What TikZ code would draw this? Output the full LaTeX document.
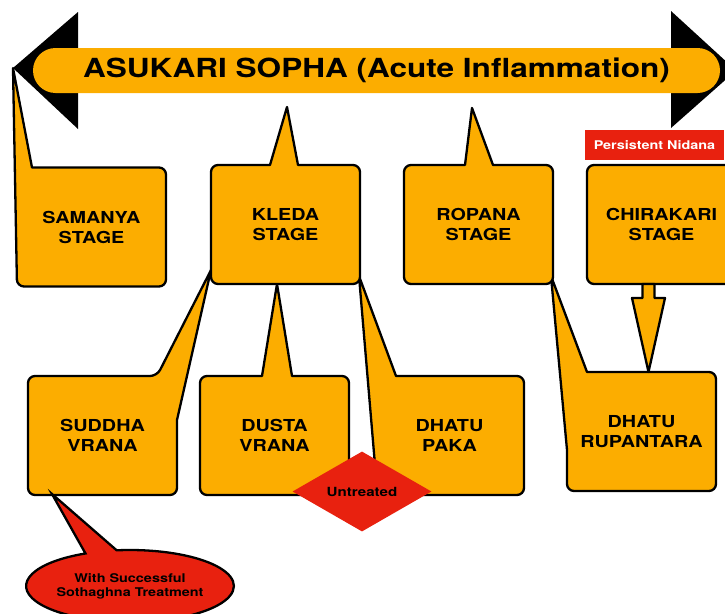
\documentclass[tikz,border=0pt]{standalone}
\usepackage{fontspec}
\setmainfont{TeX Gyre Heros}[FakeStretch=1.2]
\usepackage{tikz}
\usetikzlibrary{shapes, arrows, positioning, calc, backgrounds}
\definecolor{stageorange}{RGB}{252,173,0}
\definecolor{alertred}{RGB}{232,33,15}
\tikzset{
  stagebox/.style={rectangle, minimum width=149pt, minimum height=119pt, inner sep=0pt, outer sep=0pt, align=center, font=\fontsize{16.5}{20}\selectfont\bfseries},
  stagecallout/.style={draw, line width=2.3pt, fill=stageorange, line join=round},
  titlebar/.style={rounded rectangle, fill=stageorange, minimum width=687pt, minimum height=45pt, inner sep=0pt, outer sep=0pt, font=\fontsize{26.3}{30}\selectfont\bfseries},
  redtag/.style={rectangle, fill=alertred, text=white, minimum width=139pt, minimum height=30pt, inner sep=0pt, font=\fontsize{12}{14}\selectfont\bfseries},
  reddiamond/.style={diamond, fill=alertred, minimum width=139pt, minimum height=55pt, inner sep=0pt, font=\fontsize{12.6}{14}\selectfont\bfseries},
  redbubble/.style={ellipse callout, draw, line width=2.3pt, fill=alertred, minimum width=205pt, minimum height=72pt, inner sep=0pt, align=center, callout pointer arc=18, font=\fontsize{12}{14}\selectfont\bfseries},
  blockarrow/.style={draw, line width=2.3pt, fill=stageorange, line join=round}
}

\begin{document}
\begin{tikzpicture}[x=1pt, y=-1pt]
\useasboundingbox (0,0) rectangle (725,613);

% Nodes
\node[titlebar] (title) at (376.5,70.5) {ASUKARI SOPHA (Acute Inflammation)};
\node[stagebox] (samanya) at (91.5,227) {SAMANYA\\STAGE};
\node[stagebox, right=45pt of samanya, yshift=2.5pt] (kleda) {KLEDA\\STAGE};
\node[stagebox, right=44pt of kleda] (ropana) {ROPANA\\STAGE};
\node[stagebox, right=34pt of ropana] (chirakari) {CHIRAKARI\\STAGE};
\node[redtag, above=5pt of chirakari, xshift=-7pt] (nidana) {Persistent Nidana};

\node[stagebox] (suddha) at (102.5,435.5) {SUDDHA\\VRANA};
\node[stagebox, right=23pt of suddha] (dusta) {DUSTA\\VRANA};
\node[stagebox, right=26pt of dusta] (dhatupaka) {DHATU\\PAKA};
\node[stagebox, right=43pt of dhatupaka, yshift=4pt] (rupantara) {DHATU\\RUPANTARA};

\coordinate (gap) at ($(dusta.south east)!0.5!(dhatupaka.south west)$);
\node[reddiamond] (untreated) at ([yshift=3.5pt]gap) {Untreated};

\coordinate (suddhatip) at ($(suddha.south west)+(24,-1)$);
\node[redbubble, callout absolute pointer={(suddhatip)}] (treatment) at ($(suddha.south)+(27.5,91)$) {With Successful\\Sothaghna Treatment};

% Pointer tips
\coordinate (lefttip) at ($(title.west)+(-20,-2.5)$);
\coordinate (kledatip) at ($(kleda.north)+(1.5,-58)$);
\coordinate (ropanatip) at ($(ropana.north)+(-6.5,-57)$);
\coordinate (kledaleft) at ($(kleda.south west)+(0,-14)$);
\coordinate (kledabottom) at ($(kleda.south)+(-8.5,0)$);
\coordinate (kledaright) at ($(kleda.south east)+(-1,-8)$);
\coordinate (ropanaright) at ($(ropana.south east)+(-2,-8)$);

% Edges
\coordinate (arrowtop) at ($(chirakari.south)+(-13,0)$);
\coordinate (arrowtip) at ($(rupantara.north)+(7,0)$);
\draw[blockarrow] ($(arrowtop)+(-6,0)$) -- ++(0,14) -- ++(-10.5,0) -- (arrowtip) -- ($(arrowtop)+(16.5,14)$) -- ++(-10.5,0) -- ($(arrowtop)+(6,0)$) -- cycle;

\begin{scope}[on background layer]
% arrow heads of the title bar
\fill (lefttip) -- ($(title.west)+(45,-58.5)$) -- ($(title.west)+(45,58.5)$) -- cycle;
\fill ($(title.east)+(-49,-59.5)$) -- ($(title.east)+(16,0)$) -- ($(title.east)+(-49,57.5)$) -- cycle;

% second row
\draw[stagecallout] (kledaleft) -- ($(suddha.north east)+(0,44)$) [rounded corners=7pt] -- (suddha.south east) -- (suddha.south west) -- (suddha.north west) -- ($(suddha.north west)+(129,0)$) [sharp corners] -- cycle;
\draw[stagecallout] ($(dusta.north west)+(62,0)$) -- (kledabottom) -- ($(dusta.north west)+(92,0)$) [rounded corners=7pt] -- (dusta.north east) -- (dusta.south east) -- (dusta.south west) -- (dusta.north west) [sharp corners] -- cycle;
\draw[stagecallout] ($(dhatupaka.south west)+(0,-30)$) -- (kledaright) -- ($(dhatupaka.north west)+(21,0)$) [rounded corners=7pt] -- (dhatupaka.north east) -- (dhatupaka.south east) -- (dhatupaka.south west) [sharp corners] -- cycle;
\draw[stagecallout] ($(rupantara.south west)+(0,-41)$) -- (ropanaright) -- ($(rupantara.north west)+(20,0)$) [rounded corners=7pt] -- (rupantara.north east) -- (rupantara.south east) -- (rupantara.south west) [sharp corners] -- cycle;

% first row
\draw[stagecallout] (lefttip) -- ($(samanya.north west)+(15,0)$) [rounded corners=7pt] -- (samanya.north east) -- (samanya.south east) -- (samanya.south west) [sharp corners] -- cycle;
\draw[stagecallout] ($(kleda.north west)+(59,0)$) -- (kledatip) -- ($(kleda.north west)+(87,0)$) [rounded corners=7pt] -- (kleda.north east) -- (kleda.south east) -- (kleda.south west) -- (kleda.north west) [sharp corners] -- cycle;
\draw[stagecallout] ($(ropana.north west)+(61,0)$) -- (ropanatip) -- ($(ropana.north west)+(89,0)$) [rounded corners=7pt] -- (ropana.north east) -- (ropana.south east) -- (ropana.south west) -- (ropana.north west) [sharp corners] -- cycle;
\draw[stagecallout, rounded corners=7pt] (chirakari.north west) rectangle (chirakari.south east);
\end{scope}

\end{tikzpicture}
\end{document}
